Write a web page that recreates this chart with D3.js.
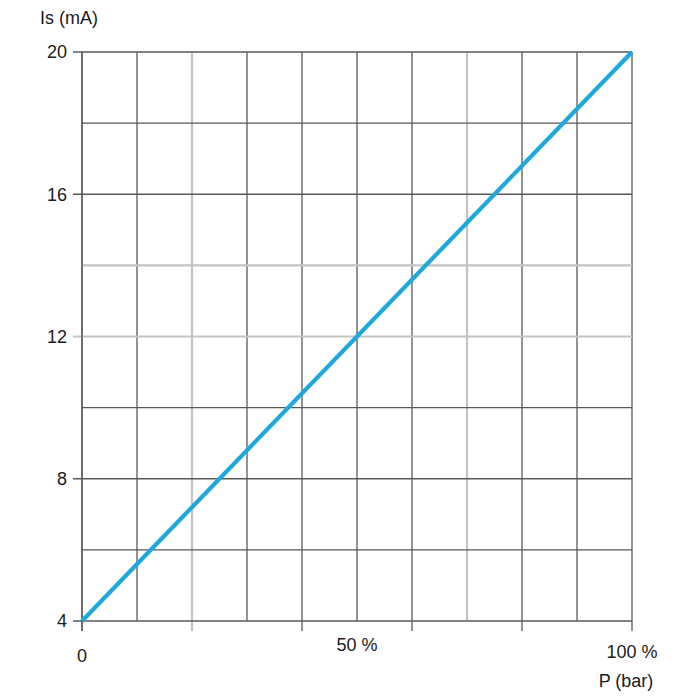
<!DOCTYPE html>
<html>
<head>
<meta charset="utf-8">
<script src="https://cdn.jsdelivr.net/npm/d3@7"></script>
<style>
  html, body { margin: 0; padding: 0; background: #fff; }
  svg text { font-family: "Liberation Sans", Arial, sans-serif; fill: #1a1a1a; }
</style>
</head>
<body>
<svg id="chart" width="700" height="700"></svg>
<script>
// ---- data ----
const pressurePct = [0, 100];          // P (bar) as % of range
const currentMA   = [4, 20];           // Is (mA)
const xGrid       = [0, 10, 20, 30, 40, 50, 60, 70, 80, 90, 100];
const yGrid       = [4, 6, 8, 10, 12, 14, 16, 18, 20];
const xLightGrid  = [20, 70];
const yLightGrid  = [12, 14];
const xTickMarks  = [0, 20, 40, 60, 80, 100];
const yTickLabels = [4, 8, 12, 16, 20];
const xLabels     = [{v: 0, t: "0", dy: 41}, {v: 50, t: "50 %", dy: 30}, {v: 100, t: "100 %", dy: 37}];
const yTitle = "Is (mA)";
const xTitle = "P (bar)";

// ---- layout ----
const svg = d3.select("#chart");
const mLeft = 82, mRight = 632, mTop = 52, mBottom = 621;
const x = d3.scaleLinear().domain([0, 100]).range([mLeft, mRight]);
const y = d3.scaleLinear().domain([4, 20]).range([mBottom, mTop]);
const dark = "#595959", light = "#c4c4c4";
const fs = 18;

// grid verticals
svg.append("g").selectAll("line").data(xGrid).join("line")
  .attr("x1", d => x(d)).attr("x2", d => x(d))
  .attr("y1", mTop).attr("y2", d => xTickMarks.includes(d) ? mBottom + 10 : mBottom)
  .attr("stroke", d => xLightGrid.includes(d) ? light : dark)
  .attr("stroke-width", d => xLightGrid.includes(d) ? 2.2 : 1.3);

// grid horizontals
svg.append("g").selectAll("line").data(yGrid).join("line")
  .attr("y1", d => y(d)).attr("y2", d => y(d))
  .attr("x1", d => yTickLabels.includes(d) ? mLeft - 9 : mLeft).attr("x2", mRight)
  .attr("stroke", d => yLightGrid.includes(d) ? light : dark)
  .attr("stroke-width", d => yLightGrid.includes(d) ? 2.2 : 1.3);

// redraw left axis on top
svg.append("line").attr("x1", mLeft).attr("x2", mLeft).attr("y1", mTop).attr("y2", mBottom + 10)
  .attr("stroke", dark).attr("stroke-width", 1.3);

// y tick labels
svg.append("g").selectAll("text").data(yTickLabels).join("text")
  .attr("x", mLeft - 15).attr("y", d => y(d)).attr("dy", "0.36em")
  .attr("text-anchor", "end").attr("font-size", fs).text(d => d);

// x labels
svg.append("g").selectAll("text").data(xLabels).join("text")
  .attr("x", d => x(d.v)).attr("y", d => mBottom + d.dy)
  .attr("text-anchor", "middle").attr("font-size", fs).text(d => d.t);

// titles
svg.append("text").attr("x", 40).attr("y", 24).attr("font-size", fs).text(yTitle);
svg.append("text").attr("x", 626).attr("y", 687).attr("text-anchor", "middle")
  .attr("font-size", fs).text(xTitle);

// line
const pts = pressurePct.map((p, i) => [p, currentMA[i]]);
svg.append("path").datum(pts)
  .attr("d", d3.line().x(d => x(d[0])).y(d => y(d[1])))
  .attr("fill", "none").attr("stroke", "#1ea8dc").attr("stroke-width", 4.2)
  .attr("stroke-linecap", "butt");
</script>
</body>
</html>
